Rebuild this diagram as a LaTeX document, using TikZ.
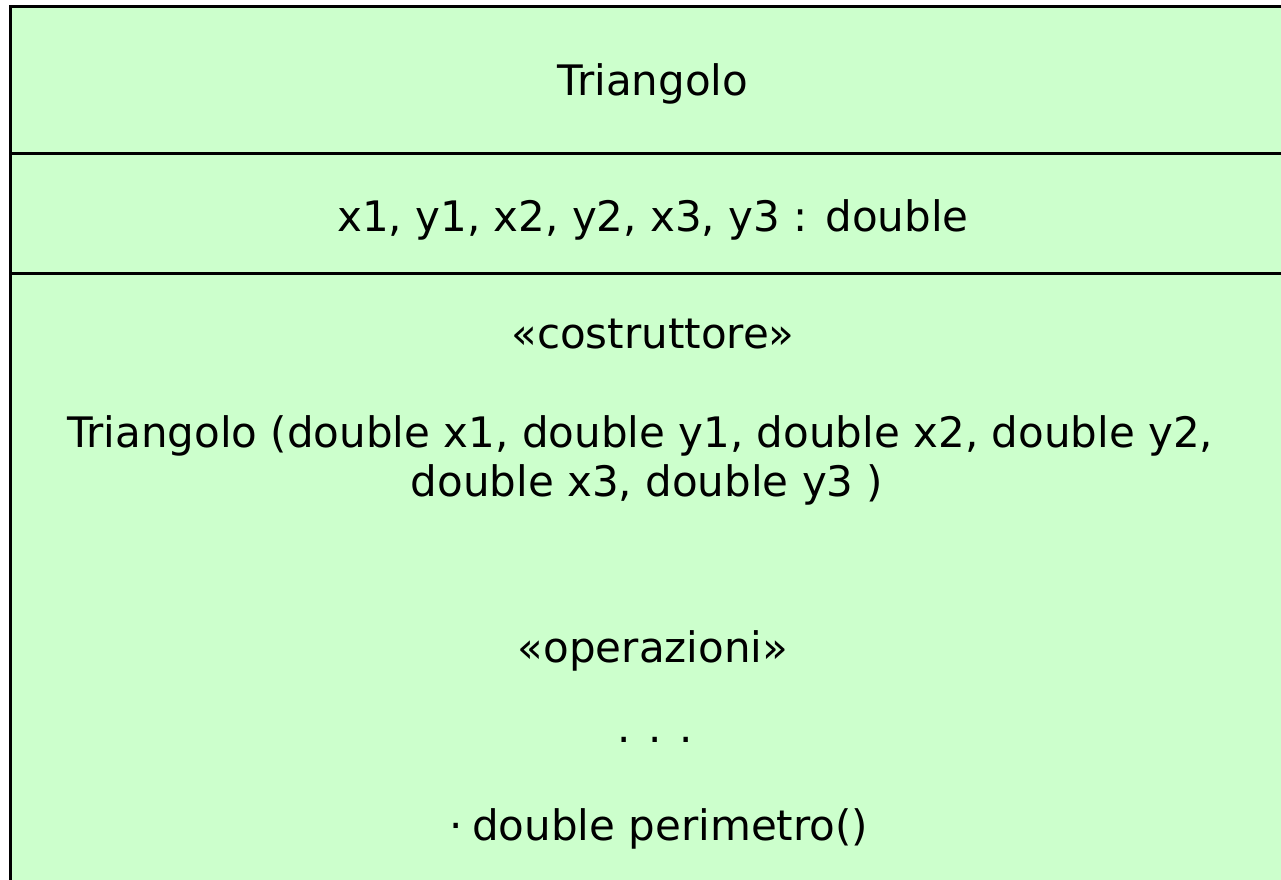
\documentclass[tikz,border=0pt]{standalone}
\usepackage{fontspec}
\setmainfont{DejaVu Sans}
\definecolor{umlgreen}{HTML}{CCFFCC}
\begin{document}
\begin{tikzpicture}[x=1pt,y=-1pt,
  txt/.style={anchor=base, inner sep=0pt, font=\fontsize{42}{49}\selectfont},
  frame/.style={line width=3pt, draw=black}]
\useasboundingbox (0,0) rectangle (1281,879);
\begin{scope}
  \clip (0,0) rectangle (1281,879);
  \draw[frame, fill=umlgreen] (10,6) rectangle (1296,900);
  \coordinate (s1l) at (10,153);  \coordinate (s1r) at (1296,153);
  \coordinate (s2l) at (10,273);  \coordinate (s2r) at (1296,273);
  \draw[frame] (s1l) -- (s1r);
  \draw[frame] (s2l) -- (s2r);
\end{scope}
\node[txt] (name) at (653,95) {Triangolo};
\node[txt] (attr) at (653,231) {x1, y1, x2, y2, x3, y3 : double};
\node[txt] (st1) at (653,348) {«costruttore»};
\node[txt] (ctor1) at (640,447) {Triangolo (double x1, double y1, double x2, double y2,};
\node[txt] (ctor2) at (647,496) {double x3, double y3 )};
\node[txt] (st2) at (653,662) {«operazioni»};
\node[txt] (dots) at (655,742) {. . .};
\node[txt] (op) at (659,840) {·\hspace{9pt}double perimetro()};
\end{tikzpicture}
\end{document}
